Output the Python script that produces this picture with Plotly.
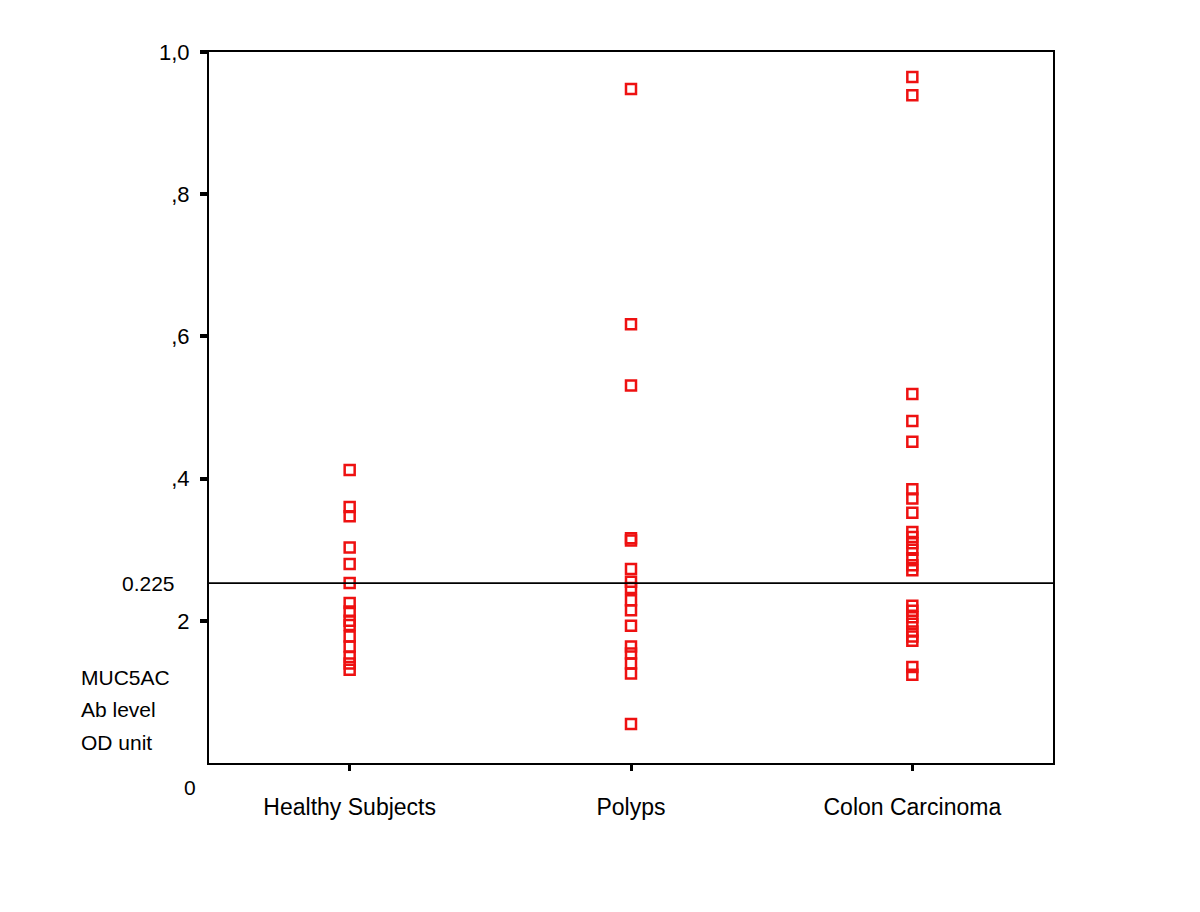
import plotly.graph_objects as go

categories = ["Healthy Subjects", "Polyps", "Colon Carcinoma"]
healthy = [0.412, 0.360, 0.347, 0.303, 0.280, 0.253, 0.225, 0.213, 0.200, 0.194,
           0.178, 0.164, 0.149, 0.140, 0.131]
polyps = [0.948, 0.617, 0.531, 0.316, 0.313, 0.273, 0.255, 0.246, 0.229, 0.215,
          0.193, 0.164, 0.154, 0.140, 0.126, 0.055]
colon = [0.965, 0.939, 0.519, 0.481, 0.452, 0.385, 0.372, 0.352, 0.325, 0.318,
         0.309, 0.300, 0.288, 0.278, 0.271, 0.221, 0.214, 0.205, 0.196, 0.185,
         0.178, 0.172, 0.135, 0.124]
y_tickvals = [0.2, 0.4, 0.6, 0.8, 1.0]
y_ticktext = ["2", ",4", ",6", ",8", "1,0"]
cutoff_value = 0.253
cutoff_label = "0.225"
axis_title_lines = ["MUC5AC", "Ab level", "OD unit"]

# page is offset by the browser's default body margin (~8px)
OFF = 8
W, H = 1200, 912
L, T = 209 - OFF, 52 - OFF
plot_w, plot_h = 844, 711
R = W - L - plot_w
B = H - T - plot_h

def px_to_paper_x(px):
    return (px - OFF - L) / plot_w

def px_to_paper_y(py):
    return (T + plot_h - (py - OFF)) / plot_h

font = "Liberation Sans, Arial, sans-serif"
red = "#ee1111"

fig = go.Figure()
for i, vals in enumerate([healthy, polyps, colon]):
    fig.add_trace(go.Scatter(
        x=[i + 1] * len(vals), y=vals, mode="markers",
        marker=dict(symbol="square-open", size=10, color=red,
                    line=dict(width=2.5, color=red)),
        showlegend=False, hoverinfo="y"))

fig.add_shape(type="line", xref="paper", yref="y", x0=0, x1=1,
              y0=cutoff_value, y1=cutoff_value,
              line=dict(color="black", width=1.6))

fig.add_annotation(xref="paper", yref="y", x=px_to_paper_x(177), y=cutoff_value,
                   text=cutoff_label, showarrow=False, xanchor="right",
                   yanchor="middle", font=dict(family=font, size=21, color="black"))

fig.add_annotation(xref="paper", yref="y", x=px_to_paper_x(198), y=0,
                   yshift=-24, text="0", showarrow=False, xanchor="right",
                   yanchor="middle", font=dict(family=font, size=21, color="black"))

for line, py in zip(axis_title_lines, [677, 709, 742]):
    fig.add_annotation(xref="paper", yref="paper", x=px_to_paper_x(79),
                       y=px_to_paper_y(py), text=line, showarrow=False,
                       xanchor="left", yanchor="middle",
                       font=dict(family=font, size=21, color="black"))

fig.update_layout(
    width=W, height=H,
    margin=dict(l=L, r=R, t=T, b=B, pad=0),
    paper_bgcolor="white", plot_bgcolor="white",
    font=dict(family=font, size=22, color="black"),
    xaxis=dict(range=[0.5, 3.5], tickvals=[1, 2, 3], ticktext=categories,
               showgrid=False, zeroline=False, showline=True, linecolor="black",
               linewidth=2, mirror=True, ticks="outside", ticklen=6,
               tickwidth=3, tickcolor="black", ticklabelstandoff=16,
               tickfont=dict(family=font, size=23)),
    yaxis=dict(range=[0, 1], tickvals=y_tickvals, ticktext=y_ticktext,
               showgrid=False, zeroline=False, showline=True, linecolor="black",
               linewidth=2, mirror=True, ticks="outside", ticklen=7,
               tickwidth=4, tickcolor="black", ticklabelstandoff=6,
               tickfont=dict(family=font, size=22)),
)

fig.write_html("out.html")
